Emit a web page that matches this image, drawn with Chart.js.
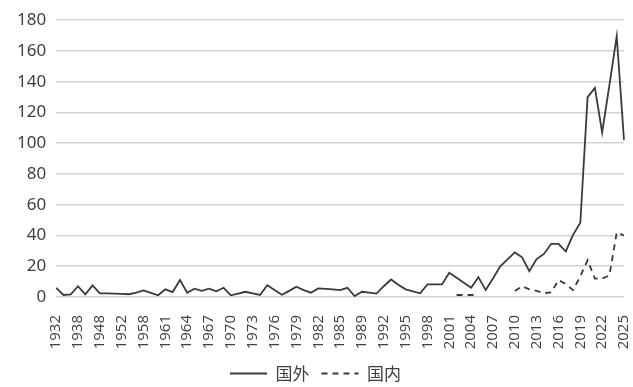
<!DOCTYPE html>
<html>
<head>
<meta charset="utf-8">
<script src="https://cdn.jsdelivr.net/npm/chart.js@4"></script>
<style>
  body { margin: 0; background: #fff; }
  canvas { display: block; }
</style>
</head>
<body>
<canvas id="myChart" width="633" height="387"></canvas>
<script>
// years on the category axis (not every year has data)
var years = [
  1932, 1934, 1936, 1938, 1940, 1946, 1948, 1949, 1950, 1952,
  1954, 1956, 1958, 1959, 1960, 1961, 1962, 1963, 1964, 1965,
  1966, 1967, 1968, 1969, 1970, 1971, 1972, 1973, 1974, 1975,
  1976, 1977, 1978, 1979, 1980, 1981, 1982, 1983, 1984, 1985,
  1986, 1988, 1989, 1990, 1991, 1992, 1993, 1994, 1995, 1996,
  1997, 1998, 1999, 2000, 2001, 2002, 2003, 2004, 2005, 2006,
  2007, 2008, 2009, 2010, 2011, 2012, 2013, 2014, 2015, 2016,
  2017, 2018, 2019, 2020, 2021, 2022, 2023, 2024, 2025,
];

var abroad = [
  6, 1.3, 1.7, 7, 1.7, 7.5, 2.4, 2.3, 2.2, 2,
  1.8, 2.8, 4.3, 2.7, 1.1, 5, 3.2, 11, 2.8, 5.4,
  4, 5.4, 3.7, 6, 1.1, 2.2, 3.4, 2.3, 1.3, 7.7,
  4.5, 1.5, 4, 6.7, 4.5, 2.8, 5.6, 5.3, 5, 4.5,
  6, 0.6, 3.4, 2.8, 2.2, 7, 11.4, 8, 5, 3.6,
  2.4, 8.2, 8.2, 8.2, 15.7, 12.5, 9.3, 6, 12.9, 4.5,
  12, 20, 24.5, 29, 25.8, 16.8, 24.7, 28, 34.6, 34.6,
  29.7, 40.4, 48.3, 130, 136, 107, 138, 169.5, 102,
];

var domestic = [
  null, null, null, null, null, null, null, null, null, null,
  null, null, null, null, null, null, null, null, null, null,
  null, null, null, null, null, null, null, null, null, null,
  null, null, null, null, null, null, null, null, null, null,
  null, null, null, null, null, null, null, null, null, null,
  null, null, null, null, null, 1.3, 1.3, 1.3, 1.3, null,
  null, null, null, 3.9, 7, 5, 4, 2.5, 3, 11,
  8.5, 4.5, 13.5, 24, 12, 12, 14, 42, 40,
];

var yTicks = { min: 0, max: 180, step: 20 };
var seriesNames = ["国外", "国内"];

var textColor = "#404040";
var lineColor = "#3a3a3a";

var ctx = document.getElementById("myChart").getContext("2d");
var myChart = new Chart(ctx, {
  type: "line",
  data: {
    labels: years,
    datasets: [
      {
        label: seriesNames[0],
        data: abroad,
        borderColor: lineColor,
        backgroundColor: lineColor,
        borderWidth: 1.8,
        pointRadius: 0,
        tension: 0,
        fill: false,
      },
      {
        label: seriesNames[1],
        data: domestic,
        borderColor: lineColor,
        backgroundColor: lineColor,
        borderWidth: 1.8,
        borderDash: [6, 5],
        pointRadius: 0,
        tension: 0,
        fill: false,
        spanGaps: false,
      },
    ],
  },
  options: {
    responsive: false,
    animation: false,
    layout: {
      padding: { left: 7, top: 5, right: 9, bottom: -5 },
    },
    scales: {
      x: {
        grid: { display: false },
        border: { display: false },
        ticks: {
          autoSkip: false,
          minRotation: 90,
          maxRotation: 90,
          padding: 10,
          color: textColor,
          font: { family: "Open Sans", size: 15 },
          callback: function (value, index) {
            return index % 3 === 0 ? years[index] : "";
          },
        },
        afterFit: function (scale) {
          scale.paddingLeft = 0;
          scale.paddingRight = 0;
          scale.height = 56;
        },
      },
      y: {
        min: yTicks.min,
        max: yTicks.max,
        border: { display: false },
        grid: { color: "#d4d4d4", lineWidth: 1.5, drawTicks: false },
        ticks: {
          stepSize: yTicks.step,
          padding: 10,
          color: textColor,
          font: { family: "Noto Sans", size: 17 },
        },
      },
    },
    plugins: {
      tooltip: { enabled: false },
      legend: {
        position: "bottom",
        labels: {
          usePointStyle: true,
          pointStyle: "line",
          pointStyleWidth: 37,
          padding: 12,
          color: textColor,
          font: { family: "Noto Sans CJK SC", size: 17 },
          generateLabels: function (chart) {
            var items = Chart.defaults.plugins.legend.labels.generateLabels(chart);
            items.forEach(function (item, i) {
              item.lineDash = chart.data.datasets[i].borderDash || [];
              item.lineWidth = 1.8;
            });
            return items;
          },
        },
      },
    },
  },
});
</script>
</body>
</html>
